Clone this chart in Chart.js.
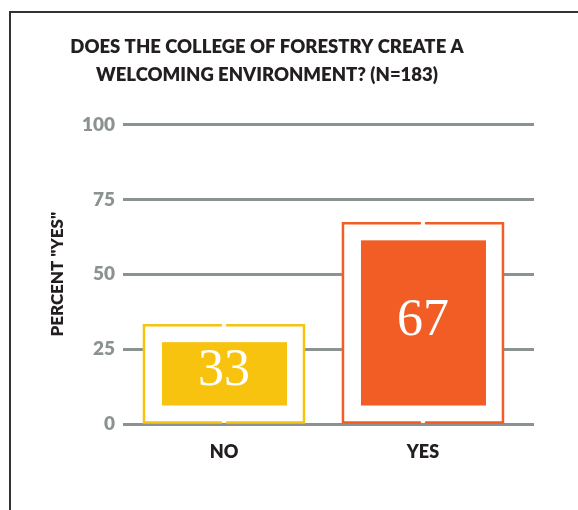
<!DOCTYPE html>
<html>
<head>
<meta charset="utf-8">
<script src="https://cdn.jsdelivr.net/npm/chart.js@4"></script>
<style>
  html, body { margin: 0; padding: 0; background: #ffffff; }
  #wrap { position: relative; width: 578px; height: 510px; overflow: hidden; }
  #frame { position: absolute; left: 9px; top: 11px; width: 700px; height: 600px;
           border-left: 2px solid #333333; border-top: 2px solid #333333; }
  #myChart { position: absolute; left: 0; top: 0; }
</style>
</head>
<body>
<div id="wrap">
  <div id="frame"></div>
  <canvas id="myChart" width="578" height="510"></canvas>
</div>
<script>
const categorias = ['NO', 'YES'];
const porcentajeSi = [33, 67];
const coloresBarra = ['#F8C30F', '#F15D24'];
const ticksY = [0, 25, 50, 75, 100];

const gris = '#8b9390';
const oscuro = '#231f20';

// marco con hueco al centro + rectangulo relleno con el valor
const barrasMarco = {
  id: 'barrasMarco',
  afterDatasetsDraw(chart) {
    const ctx = chart.ctx;
    const meta = chart.getDatasetMeta(0);
    meta.data.forEach((bar, i) => {
      const { x, y, base, width } = bar.getProps(['x', 'y', 'base', 'width'], true);
      const izq = x - width / 2;
      const der = x + width / 2;
      const color = coloresBarra[i];
      ctx.save();
      ctx.strokeStyle = color;
      ctx.lineWidth = 2.5;
      ctx.lineCap = 'round';
      ctx.lineJoin = 'miter';
      ctx.beginPath();
      ctx.moveTo(x - 3, y);
      ctx.lineTo(izq, y);
      ctx.lineTo(izq, base);
      ctx.lineTo(x - 3, base);
      ctx.moveTo(x + 3, y);
      ctx.lineTo(der, y);
      ctx.lineTo(der, base);
      ctx.lineTo(x + 3, base);
      ctx.stroke();

      ctx.fillStyle = color;
      const ix = izq + 18, iy = y + 17;
      const iw = width - 35, ih = base - y - 34;
      ctx.fillRect(ix, iy, iw, ih);

      ctx.fillStyle = '#ffffff';
      ctx.font = '52px "Liberation Serif", serif';
      ctx.textAlign = 'center';
      ctx.textBaseline = 'middle';
      ctx.fillText(String(porcentajeSi[i]), x, iy + ih / 2 - 2);
      ctx.restore();
    });
  }
};

const ctx = document.getElementById('myChart').getContext('2d');
const myChart = new Chart(ctx, {
  type: 'bar',
  data: {
    datasets: [{
      label: 'Percent yes',
      data: porcentajeSi.map((v, i) => ({ x: i, y: v })),
      backgroundColor: '#ffffff',
      borderWidth: 0,
      barThickness: 160
    }]
  },
  options: {
    responsive: false,
    animation: false,
    layout: { padding: { left: 0, right: 44, top: 0, bottom: 0 } },
    plugins: {
      legend: { display: false },
      tooltip: { enabled: false },
      title: {
        display: true,
        text: ['DOES THE COLLEGE OF FORESTRY CREATE A', 'WELCOMING ENVIRONMENT? (N=183)'],
        color: oscuro,
        font: { family: 'Lato', size: 18.5, weight: 800, lineHeight: 1.5 },
        padding: { top: 33, bottom: 36 }
      }
    },
    scales: {
      x: {
        type: 'linear',
        offset: false,
        min: -0.5075,
        max: 1.558,
        grid: { display: false, drawTicks: false, offset: false },
        border: { display: false },
        afterBuildTicks: (scale) => {
          scale.ticks = categorias.map((c, i) => ({ value: i }));
        },
        afterFit: (scale) => { scale.height = 86; },
        ticks: {
          callback: (v) => categorias[v],
          color: oscuro,
          font: { family: 'Lato', size: 18, weight: 800 },
          padding: 17,
          maxRotation: 0
        }
      },
      y: {
        min: 0,
        max: 100,
        afterBuildTicks: (scale) => {
          scale.ticks = ticksY.map(v => ({ value: v }));
        },
        afterFit: (scale) => { scale.width = 123; },
        grid: { color: gris, lineWidth: 3, drawTicks: false },
        border: { display: false },
        ticks: {
          color: gris,
          font: { family: 'Lato', size: 19, weight: 800 },
          padding: 8
        },
        title: {
          display: true,
          text: 'PERCENT "YES"',
          color: oscuro,
          font: { family: 'Lato', size: 17, weight: 800 },
          padding: { top: 47, bottom: 10 }
        }
      }
    }
  },
  plugins: [barrasMarco]
});
</script>
</body>
</html>
